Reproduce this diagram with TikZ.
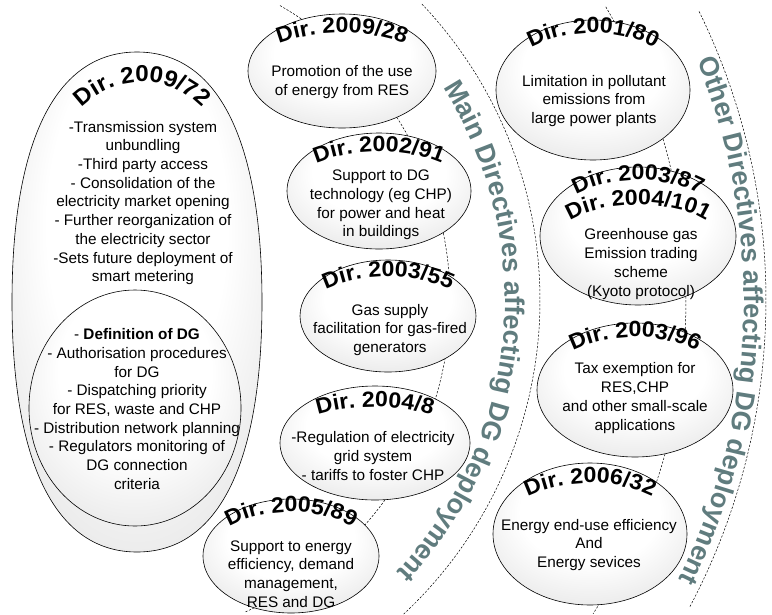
\documentclass[tikz,border=0pt]{standalone}
\usepackage{fontspec}
\setmainfont{Liberation Sans}
\newfontfamily\titlefont[FakeStretch=1.05]{Liberation Sans}
\usetikzlibrary{shapes.geometric,decorations.text}
\definecolor{bandgray}{RGB}{96,124,126}
\pgfdeclareradialshading{dirglow}{\pgfpoint{0bp}{12bp}}{color(0bp)=(white); color(18bp)=(white); color(50bp)=(black!20)}

\begin{document}
\begin{tikzpicture}[x=1pt,y=-1pt,
        dirnode/.style={ellipse,draw,line width=0.6pt,inner sep=0pt,shade,shading=dirglow},
        body/.style={align=center,inner sep=0pt,font=\fontsize{15.3}{18.7}\selectfont},
        ring/.style={line width=0.5pt,dash pattern=on 2.2pt off 1.6pt},
        dirtitle/.style={decorate,decoration={text along path,text align=center,
                text={|\titlefont\bfseries\fontsize{22}{22}\selectfont|#1}}},
        bigtitle/.style={decorate,decoration={text along path,text align=center,
                text={|\titlefont\bfseries\fontsize{23}{23}\selectfont|#1}}},
        bandlabel/.style={decorate,decoration={text along path,text align=center,text color=bandgray,
                text={|\bfseries\fontsize{27}{27}\selectfont|#1}}}
    ]

    \useasboundingbox (0,0) rectangle (772,614);

    % dashed rings
    \coordinate (hub) at (110,300);
    \draw[ring] (hub) ++(-60:340) arc[start angle=-60,end angle=66.5,radius=340];
    \draw[ring] (hub) ++(-43.5:430) arc[start angle=-43.5,end angle=47,radius=430];
    \draw[ring] (hub) ++(-30.6:576) arc[start angle=-30.6,end angle=33,radius=576];
    \draw[ring] (hub) ++(-26.1:656) arc[start angle=-26.1,end angle=28,radius=656];

    \path[bandlabel={Main Directives affecting DG deployment}]
        (hub) ++(-54.5:395) arc[start angle=-54.5,end angle=65.5,radius=395];
    \path[bandlabel={Other Directives affecting DG deployment}]
        (hub) ++(-48:634) arc[start angle=-48,end angle=52,radius=634];

    % electricity directive
    \path[draw,line width=0.6pt,shade,shading=dirglow]
        (137,52) .. controls (218,52) and (262,140) .. (262,302)
        .. controls (262,464) and (218,552) .. (137,552)
        .. controls (56,552) and (12,464) .. (12,302)
        .. controls (12,140) and (56,52) .. (137,52) -- cycle;
    \path[bigtitle={Dir. 2009/72}] (142,166) ++(-150:84) arc[start angle=-150,end angle=-30,radius=84];
    \node[body] (d2009_72txt) at (143,203) {-Transmission system\\unbundling\\-Third party access\\
        - Consolidation of the\\electricity market opening\\- Further reorganization of\\
        the electricity sector\\-Sets future deployment of\\smart metering};
    \node[dirnode,minimum width=212pt,minimum height=236pt] (defdg) at (135,408) {};
    \node[body] (defdgtxt) at (137,409) {- \textbf{Definition of DG}\\- Authorisation procedures\\for DG\\
        - Dispatching priority\\for RES, waste and CHP\\- Distribution network planning\\
        - Regulators monitoring of\\DG connection\\criteria};

    % main directives
    \node[dirnode,minimum width=188pt,minimum height=114pt] (d2009_28) at (342,71) {};
    \path[dirtitle={Dir. 2009/28}] (d2009_28.center) ++(-160:90 and 38)
        arc[start angle=-160,end angle=-20,x radius=90,y radius=38];
    \node[body] (d2009_28txt) at (342,82) {Promotion of the use\\of energy from RES};

    \node[dirnode,minimum width=184pt,minimum height=116pt] (d2002_91) at (379,191) {};
    \path[dirtitle={Dir. 2002/91}] (d2002_91.center) ++(-160:88 and 39)
        arc[start angle=-160,end angle=-20,x radius=88,y radius=39];
    \node[body] (d2002_91txt) at (381,205) {Support to DG\\technology (eg CHP)\\for power and heat\\in buildings};

    \node[dirnode,minimum width=176pt,minimum height=112pt] (d2003_55) at (388,316) {};
    \path[dirtitle={Dir. 2003/55}] (d2003_55.center) ++(-160:84 and 39)
        arc[start angle=-160,end angle=-20,x radius=84,y radius=39];
    \node[body] (d2003_55txt) at (390,330) {Gas supply\\facilitation for gas-fired\\generators};

    \node[dirnode,minimum width=190pt,minimum height=114pt] (d2004_8) at (375,443) {};
    \path[dirtitle={Dir. 2004/8}] (d2004_8.center) ++(-160:90 and 36)
        arc[start angle=-160,end angle=-20,x radius=90,y radius=36];
    \node[body] (d2004_8txt) at (373,456) {-Regulation of electricity\\grid system\\- tariffs to foster CHP};

    \node[dirnode,minimum width=176pt,minimum height=114pt] (d2005_89) at (291,556) {};
    \path[dirtitle={Dir. 2005/89}] (d2005_89.center) ++(-160:82 and 44)
        arc[start angle=-160,end angle=-20,x radius=82,y radius=44];
    \node[body] (d2005_89txt) at (291,574) {Support to energy\\efficiency, demand\\management,\\RES and DG};

    % other directives
    \node[dirnode,minimum width=194pt,minimum height=140pt] (d2001_80) at (593,90) {};
    \path[dirtitle={Dir. 2001/80}] (d2001_80.center) ++(-160:92 and 57)
        arc[start angle=-160,end angle=-20,x radius=92,y radius=57];
    \node[body] (d2001_80txt) at (594,101) {Limitation in pollutant\\emissions from\\large power plants};

    \node[dirnode,minimum width=196pt,minimum height=138pt] (d2003_87) at (638,236) {};
    \path[dirtitle={Dir. 2003/87}] (d2003_87.center) ++(-160:92 and 56)
        arc[start angle=-160,end angle=-20,x radius=92,y radius=56];
    \path[dirtitle={Dir. 2004/101}] (d2003_87.center) ++(-170:78 and 31)
        arc[start angle=-170,end angle=-10,x radius=78,y radius=31];
    \node[body] (d2003_87txt) at (641,264) {Greenhouse gas\\Emission trading\\scheme\\(Kyoto protocol)};

    \node[dirnode,minimum width=196pt,minimum height=134pt] (d2003_96) at (635,390) {};
    \path[dirtitle={Dir. 2003/96}] (d2003_96.center) ++(-160:92 and 53)
        arc[start angle=-160,end angle=-20,x radius=92,y radius=53];
    \node[body] (d2003_96txt) at (635,398) {Tax exemption for\\RES,CHP\\and other small-scale\\applications};

    \node[dirnode,minimum width=194pt,minimum height=142pt] (d2006_32) at (590,534) {};
    \path[dirtitle={Dir. 2006/32}] (d2006_32.center) ++(-160:92 and 51)
        arc[start angle=-160,end angle=-20,x radius=92,y radius=51];
    \node[body] (d2006_32txt) at (589,545) {Energy end-use efficiency\\And\\Energy sevices};

\end{tikzpicture}
\end{document}
